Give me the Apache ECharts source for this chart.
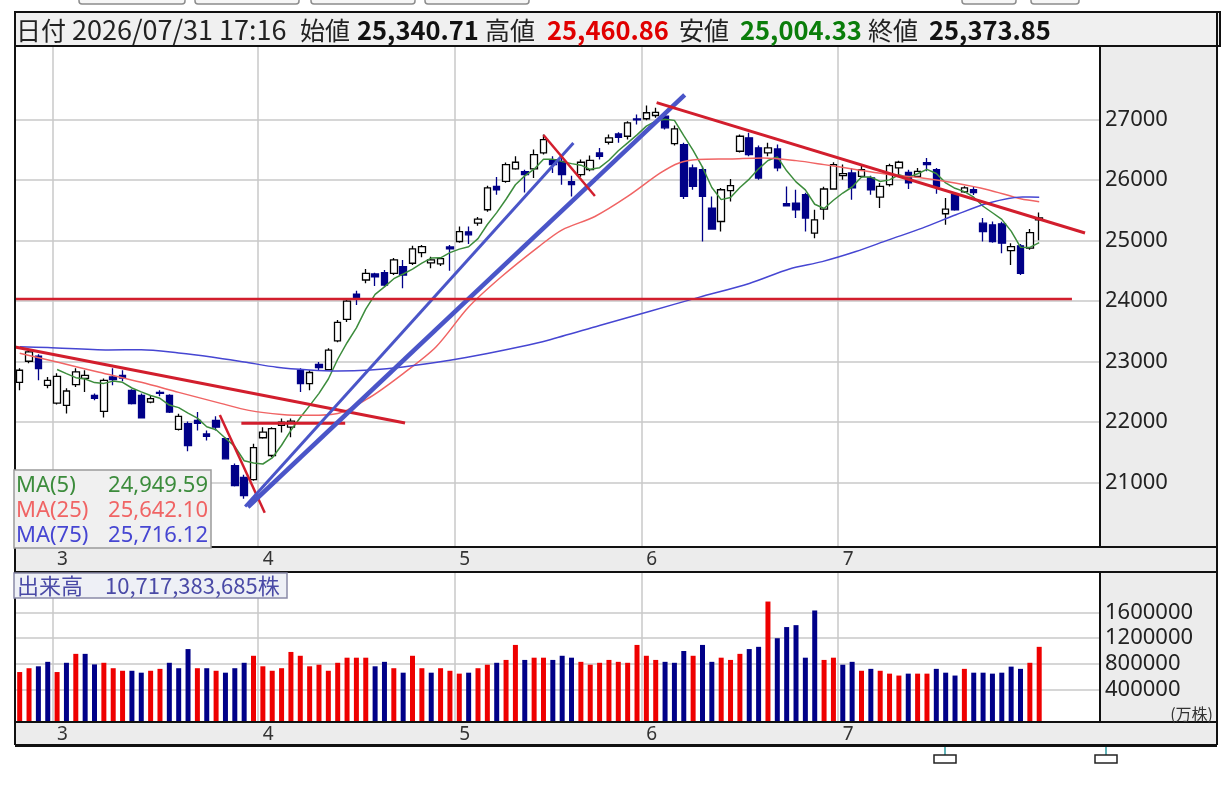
<!DOCTYPE html>
<html lang="ja">
<head>
<meta charset="UTF-8">
<title>日足チャート</title>
<script src="https://cdn.jsdelivr.net/npm/echarts@6.0.0/dist/echarts.min.js"></script>
<style>
  html, body { margin: 0; padding: 0; background: #ffffff; }
  #main { width: 1228px; height: 787px; }
</style>
</head>
<body>
<div id="main"></div>
<script>
// 営業日（月, 日）
var tradingDays = [
  ['02', [24, 25, 26, 27]],
  ['03', [2, 3, 4, 5, 6, 9, 10, 11, 12, 13, 16, 17, 18, 19, 20, 23, 24, 25, 26, 27, 30, 31]],
  ['04', [1, 2, 3, 6, 7, 8, 9, 10, 13, 14, 15, 16, 17, 20, 21, 22, 23, 24, 27, 28, 30]],
  ['05', [1, 4, 6, 7, 8, 11, 12, 13, 14, 15, 18, 19, 20, 21, 22, 25, 26, 27, 28, 29]],
  ['06', [1, 2, 3, 4, 5, 8, 9, 10, 11, 12, 15, 16, 17, 18, 19, 22, 23, 24, 25, 26, 29]],
  ['07', [1, 2, 3, 6, 7, 8, 9, 10, 13, 14, 15, 16, 17, 21, 22, 23, 24, 27, 28, 29, 30, 31]]
];
var emptySlots = 6;

var opens = [
  22656, 23004, 23087, 22606, 22313, 22275, 22618, 22722, 22441, 22175,
  22744, 22772, 22523, 22440, 22329, 22490, 22440, 21877, 21971, 22026,
  21802, 22026, 21723, 21280, 21086, 21048, 21740, 21446, 21943, 21915,
  22855, 22635, 22950, 22867, 23341, 23695, 24115, 24347, 24447, 24469,
  24458, 24568, 24624, 24800, 24629, 24612, 24894, 24983, 25143, 25287,
  25508, 25894, 25977, 26183, 26138, 26183, 26448, 26337, 26309, 25972,
  26088, 26171, 26448, 26624, 26760, 26723, 27008, 27012, 27066, 27055,
  26602, 26586, 26199, 26171, 25536, 25314, 25823, 26475, 26697, 26531,
  26448, 26514, 25607, 25619, 25757, 25122, 25519, 25851, 26071, 26116,
  26060, 26033, 25718, 25922, 26199, 26127, 26060, 26287, 26171, 25442,
  25757, 25803, 25839, 25287, 25259, 25276, 24833, 24911, 24873, 25340.71
];
var closes = [
  22855, 23158, 22883, 22689, 22755, 22512, 22827, 22772, 22391, 22689,
  22700, 22727, 22303, 22070, 22386, 22474, 22164, 22093, 21611, 21976,
  21761, 21915, 21391, 20948, 20783, 21575, 21832, 21889, 21998, 22015,
  22635, 22818, 22900, 23187, 23646, 23999, 24044, 24458, 24397, 24264,
  24679, 24430, 24862, 24899, 24679, 24700, 24861, 25148, 25093, 25354,
  25868, 25839, 26254, 26293, 26088, 26420, 26668, 26254, 26088, 25922,
  26293, 26325, 26392, 26697, 26705, 26945, 26992, 27111, 27116, 26862,
  26845, 25728, 25894, 25728, 25188, 25839, 25906, 26723, 26420, 26033,
  26531, 26199, 25574, 25508, 25370, 25342, 25851, 26254, 26105, 25868,
  26171, 25839, 25894, 26237, 26293, 25951, 26143, 26254, 25894, 25519,
  25505, 25868, 25790, 25148, 24982, 24956, 24899, 24458, 25131, 25373.85
];
var lows = [
  22523, 22971, 22689, 22557, 22291, 22142, 22579, 22496, 22358, 22075,
  22606, 22672, 22291, 22059, 22308, 22424, 22147, 21860, 21517, 21860,
  21694, 21860, 21380, 20932, 20733, 21031, 21723, 21418, 21827, 21749,
  22496, 22523, 22855, 22855, 23319, 23651, 23933, 24292, 24248, 24230,
  24430, 24210, 24596, 24724, 24541, 24580, 24501, 24961, 24944, 25243,
  25475, 25757, 25955, 26171, 25795, 26033, 26420, 26116, 25922, 25728,
  26055, 26143, 26337, 26586, 26614, 26668, 26917, 26988, 27028, 26834,
  26569, 25685, 25839, 24982, 25176, 25148, 25645, 26453, 26392, 26005,
  26392, 26143, 25563, 25370, 25148, 25039, 25342, 25839, 26005, 25674,
  26033, 25757, 25536, 25894, 26088, 25851, 26033, 26143, 25773, 25259,
  25491, 25785, 25750, 24982, 24961, 24790, 24596, 24430, 24845, 25004.33
];
var highs = [
  22888, 23203, 23120, 22744, 22805, 22557, 22888, 22855, 22473, 22717,
  22888, 22855, 22540, 22473, 22440, 22523, 22457, 22137, 22010, 22164,
  21860, 22093, 21744, 21313, 21130, 21640, 21915, 21915, 22059, 22059,
  22888, 22855, 22993, 23220, 23684, 24032, 24170, 24530, 24468, 24513,
  24712, 24679, 24911, 24927, 24733, 24729, 24927, 25231, 25231, 25389,
  25906, 26050, 26287, 26392, 26171, 26503, 26751, 26392, 26370, 26072,
  26337, 26403, 26530, 26751, 26790, 26972, 27083, 27232, 27194, 27116,
  26901, 26614, 26254, 26221, 25728, 25868, 26017, 26751, 26779, 26569,
  26614, 26586, 25894, 25839, 25790, 25508, 25889, 26293, 26254, 26199,
  26237, 26072, 25950, 26270, 26320, 26171, 26199, 26365, 26199, 25702,
  25790, 25895, 25895, 25370, 25314, 25309, 24956, 24944, 25188, 25460.86
];

// 出来高（万株）と前日比の向き（1=上昇 赤, 0=下落 青）
var volumes = [
  670000, 730000, 760000, 830000, 670000, 815000, 955000, 955000, 790000, 815000,
  730000, 690000, 690000, 660000, 690000, 720000, 815000, 730000, 1030000, 730000,
  730000, 690000, 660000, 730000, 815000, 925000, 760000, 690000, 730000, 985000,
  925000, 760000, 785000, 690000, 815000, 895000, 895000, 895000, 760000, 830000,
  730000, 660000, 925000, 730000, 660000, 730000, 690000, 645000, 660000, 730000,
  785000, 815000, 860000, 1095000, 860000, 895000, 895000, 860000, 925000, 895000,
  830000, 785000, 815000, 860000, 830000, 815000, 1095000, 925000, 860000, 830000,
  815000, 1000000, 925000, 1095000, 830000, 895000, 860000, 955000, 1030000, 1065000,
  1775000, 1200000, 1375000, 1405000, 895000, 1635000, 860000, 895000, 785000, 830000,
  690000, 720000, 690000, 645000, 615000, 645000, 645000, 645000, 720000, 660000,
  615000, 720000, 660000, 660000, 645000, 660000, 755000, 720000, 815000, 1065000
];
var volUp = [
  1, 1, 0, 0, 1, 0, 1, 0, 0, 1,
  1, 1, 0, 0, 1, 1, 0, 0, 0, 1,
  0, 1, 0, 0, 0, 1, 1, 1, 1, 1,
  1, 1, 1, 1, 1, 1, 1, 1, 0, 0,
  1, 0, 1, 1, 0, 1, 1, 1, 0, 1,
  1, 0, 1, 1, 0, 1, 1, 0, 0, 0,
  1, 1, 1, 1, 1, 1, 1, 1, 1, 0,
  0, 0, 1, 0, 0, 1, 1, 1, 0, 0,
  1, 0, 0, 0, 0, 0, 1, 1, 0, 0,
  1, 0, 1, 1, 1, 0, 1, 1, 0, 0,
  0, 1, 0, 0, 0, 0, 0, 0, 1, 1
];

// 移動平均線（チャートから読み取った点: [本目, 値]）
var ma25Points = [
  [0, 23135], [4, 22990], [8.5, 22822], [13, 22656], [17, 22490], [21.5, 22308],
  [24.5, 22192], [28, 22125], [31, 22110], [34, 22140], [37.5, 22413], [41, 22800],
  [44.5, 23240], [48, 23900], [51.5, 24400], [55.5, 24899], [58, 25176], [61.5, 25397],
  [65, 25728], [68.5, 26116], [70.5, 26282], [72.5, 26337], [76, 26348], [79.5, 26365],
  [83, 26320], [86, 26254], [89.5, 26171], [93, 26088], [96.5, 26033], [100, 25950],
  [103.5, 25839], [107, 25690], [109, 25642]
];
var ma75Points = [
  [0, 23242], [3, 23230], [9.5, 23190], [13, 23195], [17, 23142], [20.5, 23076],
  [24, 22993], [27.5, 22905], [31, 22860], [34, 22843], [37.5, 22860], [41, 22910],
  [46, 23021], [50, 23132], [53.5, 23242], [56.5, 23352], [62, 23595], [67.3, 23827],
  [72.6, 24060], [78, 24290], [82.3, 24530], [85.8, 24651], [89.4, 24817], [92.9, 25010],
  [96.5, 25204], [100.1, 25425], [103.6, 25619], [107.2, 25718], [109, 25716]
];
var maLegend = [
  ['MA(5)', '24,949.59'],
  ['MA(25)', '25,642.10'],
  ['MA(75)', '25,716.12']
];
var volumeTotal = '10,717,383,685';

// 描画したトレンドライン（[本目, 値] の始点と終点）
var trendLines = [
  [[-0.5, 23239], [41.2, 21983]],
  [[23.7, 21978], [34.8, 21978]],
  [[21.4, 22116], [26.2, 20500]],
  [[24.1, 20604], [59.2, 26612]],
  [[24.4, 20595], [71.1, 27405]],
  [[56.0, 26744], [61.5, 25735]],
  [[68.1, 27278], [113.9, 25124]],
  [[-0.5, 24033], [112.5, 24033]]
];
var trendStyles = [
  ['#d21e2d', 3], ['#d21e2d', 3], ['#d21e2d', 2.5], ['#4a55c8', 3],
  ['#4a55c8', 4.5], ['#d21e2d', 2.5], ['#d21e2d', 3], ['#d21e2d', 2.5]
];

// カテゴリ（日付）
var dates = [];
var monthStart = [];
tradingDays.forEach(function (m, k) {
  m[1].forEach(function (d, j) {
    monthStart.push(k > 0 && j === 0);
    dates.push('2026/' + m[0] + '/' + (d < 10 ? '0' + d : d));
  });
});
for (var e = 0; e < emptySlots; e++) { dates.push(''); monthStart.push(false); }

var ma5 = closes.map(function (c, i) {
  if (i < 4) return '-';
  var s = 0;
  for (var k = i - 4; k <= i; k++) s += closes[k];
  return +(s / 5).toFixed(2);
});

var last = closes.length - 1;
function fmt(v) {
  return v.toLocaleString('en-US', { minimumFractionDigits: 2, maximumFractionDigits: 2 });
}

var CJK = '"Noto Sans CJK JP", "Noto Sans", sans-serif';
var LAT = '"Noto Sans", "DejaVu Sans", sans-serif';
var MA_COLORS = ['#3c8c3c', '#f06464', '#4646d2'];

var myChart = echarts.init(document.getElementById('main'));

// 上部・下部の装飾
var g = [];
function rect(x, y, w, h, fill, stroke, lw, z) {
  g.push({ type: 'rect', silent: true, z: z, shape: { x: x, y: y, width: w, height: h },
    style: { fill: fill, stroke: stroke || null, lineWidth: lw || 0 } });
}
function line(x1, y1, x2, y2, color, lw, z) {
  g.push({ type: 'line', silent: true, z: z, shape: { x1: x1, y1: y1, x2: x2, y2: y2 },
    style: { stroke: color, lineWidth: lw } });
}
function text(x, y, s, font, fill, align, z) {
  g.push({ type: 'text', silent: true, z: z, x: x, y: y,
    style: { text: s, font: font, fill: fill, align: align || 'left', verticalAlign: 'middle',
      textAlign: align || 'left', textVerticalAlign: 'middle' } });
}

[[79, 106], [195, 104], [311, 104], [425, 104], [962, 54], [1031, 48]].forEach(function (b) {
  g.push({ type: 'rect', silent: true, z: 10, shape: { x: b[0], y: -10, width: b[1], height: 14, r: 3 },
    style: { fill: '#f6f6f6', stroke: '#8c8c8c', lineWidth: 1.5 } });
});

// 背景
rect(1100, 47, 117, 500, '#ececec', null, 0, -5);
rect(1100, 572, 117, 150, '#ececec', null, 0, -5);
rect(15, 547, 1202, 25, '#ececec', null, 0, -5);
rect(15, 722, 1202, 23, '#ececec', null, 0, -5);

// ヘッダー
rect(15, 12, 1205, 34, '#f0f0f0', '#111', 2, 40);
var hdr = [
  ['日付', 16, '25px ', '#222'],
  [dates[last] + ' 17:16', 72, '27px ', '#222'],
  ['始値', 300, '25px ', '#222'],
  [fmt(opens[last]), 357, 'bold 25.5px ', '#111'],
  ['高値', 485, '25px ', '#222'],
  [fmt(highs[last]), 547, 'bold 25.5px ', '#e00000'],
  ['安値', 679, '25px ', '#222'],
  [fmt(lows[last]), 740, 'bold 25.5px ', '#0a7d0a'],
  ['終値', 868, '25px ', '#222'],
  [fmt(closes[last]), 929, 'bold 25.5px ', '#111']
];
hdr.forEach(function (h) {
  text(h[1], 30, h[0], h[2] + CJK, h[3], 'left', 41);
});

// 枠線
line(15, 46, 15, 745, '#111', 2, 50);
line(1100, 46, 1100, 547, '#111', 2, 50);
line(1100, 572, 1100, 722, '#111', 2, 50);
line(1217, 12, 1217, 745, '#111', 2, 50);
line(15, 547, 1217, 547, '#111', 2, 50);
line(15, 572, 1217, 572, '#111', 2, 50);
line(15, 722, 1217, 722, '#111', 2, 50);
line(15, 745.5, 1217, 745.5, '#111', 3, 50);

// MA 凡例
rect(14, 470, 197, 78, '#f0f0f0', '#9a9a9a', 1.5, 60);
maLegend.forEach(function (m, k) {
  text(16, 486 + k * 25, m[0], '22px ' + LAT, MA_COLORS[k], 'left', 61);
  text(208, 486 + k * 25, m[1], '22px ' + LAT, MA_COLORS[k], 'right', 61);
});

// 出来高 凡例
rect(14, 573, 273, 25, '#eef0f6', '#8a8aa8', 1.5, 60);
text(17, 586, '出来高　' + volumeTotal + '株', '22px ' + CJK, '#4a4aa6', 'left', 61);
text(1213, 714, '(万株)', '16px ' + CJK, '#333', 'right', 61);

// 下部パネルのマーカー
line(945, 747, 945, 757, '#2a9aa0', 1.5, 50);
rect(934, 755, 22, 8, '#ffffff', '#222', 1.5, 51);
line(1106, 747, 1106, 757, '#2a9aa0', 1.5, 50);
rect(1095, 755, 22, 8, '#ffffff', '#222', 1.5, 51);

var gridLine = { show: true, lineStyle: { color: '#c8c8c8', width: 1.5 } };
var monthInterval = function (idx) { return monthStart[idx]; };
var monthLabel = {
  interval: monthInterval, align: 'left', margin: 3, color: '#333',
  fontSize: 19, fontFamily: LAT,
  formatter: function (v) { return String(Number(v.split('/')[1])); }
};
var plainNumber = function (v) { return String(v); };

var series = [
  {
    type: 'candlestick', xAxisIndex: 0, yAxisIndex: 0, z: 2, barWidth: 7,
    data: opens.map(function (o, i) { return [o, closes[i], lows[i], highs[i]]; }),
    itemStyle: { color: '#ffffff', color0: '#000088', borderColor: '#000000', borderColor0: '#000088', borderWidth: 1.3 }
  },
  { type: 'line', xAxisIndex: 0, yAxisIndex: 0, z: 3, data: ma5, symbol: 'none',
    lineStyle: { color: MA_COLORS[0], width: 1.5 } },
  { type: 'line', xAxisIndex: 4, yAxisIndex: 0, z: 3, data: ma25Points, symbol: 'none', smooth: 0.3,
    lineStyle: { color: MA_COLORS[1], width: 1.5 } },
  { type: 'line', xAxisIndex: 4, yAxisIndex: 0, z: 3, data: ma75Points, symbol: 'none', smooth: 0.3,
    lineStyle: { color: MA_COLORS[2], width: 1.5 } },
  {
    type: 'custom', xAxisIndex: 2, yAxisIndex: 2, z: 2,
    data: volumes.map(function (v, i) { return [i, v, volUp[i]]; }),
    renderItem: function (params, api) {
      var top = api.coord([api.value(0), api.value(1)]);
      var bottom = params.coordSys.y + params.coordSys.height;
      var w = 5;
      return {
        type: 'rect',
        shape: { x: top[0] - w / 2, y: top[1], width: w, height: bottom - top[1] },
        style: { fill: api.value(2) ? '#ee0000' : '#000088' }
      };
    }
  }
];
trendLines.forEach(function (t, k) {
  series.push({ type: 'line', xAxisIndex: 4, yAxisIndex: 0, z: 5, data: t, symbol: 'none',
    lineStyle: { color: trendStyles[k][0], width: trendStyles[k][1] } });
});

var option = {
  animation: false,
  graphic: { elements: g },
  grid: [
    { left: 15, top: 47, width: 1085, height: 500 },
    { left: 15, top: 119.5, width: 1085, height: 363 },
    { left: 15, top: 572, width: 1085, height: 150 },
    { left: 15, top: 612.7, width: 1085, height: 76.6 }
  ],
  xAxis: [
    { type: 'category', gridIndex: 0, data: dates, boundaryGap: true,
      axisLine: { show: false }, axisTick: { show: false },
      axisLabel: monthLabel, splitLine: { show: true, interval: monthInterval, lineStyle: gridLine.lineStyle } },
    { type: 'value', gridIndex: 1, min: 0, max: 1, show: false },
    { type: 'category', gridIndex: 2, data: dates, boundaryGap: true,
      axisLine: { show: false }, axisTick: { show: false },
      axisLabel: monthLabel, splitLine: { show: true, interval: monthInterval, lineStyle: gridLine.lineStyle } },
    { type: 'value', gridIndex: 3, min: 0, max: 1, show: false },
    { type: 'value', gridIndex: 0, min: -0.5, max: dates.length - 0.5, show: false }
  ],
  yAxis: [
    { type: 'value', gridIndex: 0, min: 19934, max: 28198, show: false },
    { type: 'value', gridIndex: 1, min: 21000, max: 27000, interval: 1000, position: 'right',
      axisLine: { show: false }, axisTick: { show: false }, splitLine: gridLine,
      axisLabel: { margin: 5, color: '#222', fontSize: 22, fontFamily: LAT, formatter: plainNumber } },
    { type: 'value', gridIndex: 2, min: -113000, max: 2238000, show: false },
    { type: 'value', gridIndex: 3, min: 400000, max: 1600000, interval: 400000, position: 'right',
      axisLine: { show: false }, axisTick: { show: false }, splitLine: gridLine,
      axisLabel: { margin: 5, color: '#222', fontSize: 22, fontFamily: LAT, formatter: plainNumber } }
  ],
  series: series
};

myChart.setOption(option);
</script>
</body>
</html>
